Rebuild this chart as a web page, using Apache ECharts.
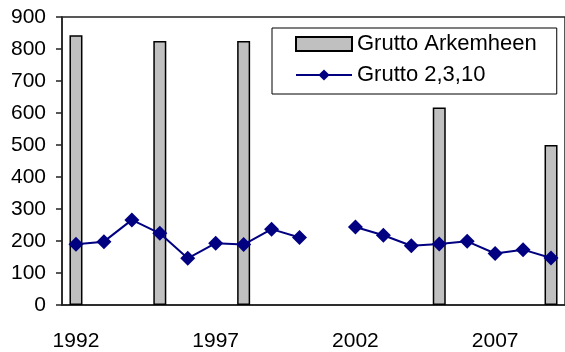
<!DOCTYPE html>
<html>
<head>
<meta charset="utf-8">
<script src="https://cdn.jsdelivr.net/npm/echarts@6/dist/echarts.min.js"></script>
<style>
  html, body { margin: 0; padding: 0; background: #fff; }
  #chart { width: 565px; height: 352px; }
</style>
</head>
<body>
<div id="chart"></div>
<script>
// years on the x axis
var years = ['1992', '1993', '1994', '1995', '1996', '1997', '1998', '1999', '2000',
  '2001', '2002', '2003', '2004', '2005', '2006', '2007', '2008', '2009']
// Grutto Arkemheen (bars, only some years counted)
var arkemheen = [843, null, null, 825, null, null, 825, null, null,
  null, null, null, null, 617, null, null, null, 500]
// Grutto 2,3,10 (line, 2001 missing)
var grutto2310 = [190, 198, 266, 224, 146, 193, 189, 237, 211,
  null, 244, 218, 185, 191, 199, 161, 173, 147]
var yTicks = { min: 0, max: 900, interval: 100 }

var chart = echarts.init(document.getElementById('chart'))
var font = 'Liberation Sans, Arial, sans-serif'

chart.setOption({
  animation: false,
  textStyle: { fontFamily: font },
  grid: {
    left: 62,
    right: 0,
    top: 17,
    bottom: 46,
    show: true,
    borderColor: '#222',
    borderWidth: 1.5
  },
  legend: {
    orient: 'vertical',
    left: 272,
    top: 28,
    padding: [5, 20, 8, 23],
    itemGap: 9,
    itemWidth: 56,
    itemHeight: 14,
    borderColor: '#000',
    borderWidth: 1,
    backgroundColor: '#fff',
    textStyle: { fontSize: 22, color: '#000', lineHeight: 22, fontFamily: font },
    data: [{ name: 'Grutto Arkemheen', icon: 'rect' }, { name: 'Grutto 2,3,10' }]
  },
  xAxis: {
    type: 'category',
    data: years,
    boundaryGap: true,
    axisLine: { lineStyle: { color: '#222', width: 1.5 } },
    axisTick: { interval: 0, length: 6, lineStyle: { color: '#222', width: 1.5 } },
    axisLabel: { interval: 4, fontSize: 21, color: '#000', margin: 26 }
  },
  yAxis: {
    type: 'value',
    min: yTicks.min,
    max: yTicks.max,
    interval: yTicks.interval,
    splitLine: { show: false },
    axisLine: { show: true, lineStyle: { color: '#222', width: 1.5 } },
    axisTick: { show: true, length: 6, lineStyle: { color: '#222', width: 1.5 } },
    axisLabel: { fontSize: 21, color: '#000', margin: 16 }
  },
  series: [
    {
      name: 'Grutto Arkemheen',
      type: 'bar',
      barWidth: 13,
      data: arkemheen,
      itemStyle: { color: '#c0c0c0', borderColor: '#000', borderWidth: 1.5 }
    },
    {
      name: 'Grutto 2,3,10',
      type: 'line',
      data: grutto2310,
      connectNulls: false,
      symbol: 'diamond',
      symbolSize: 15,
      lineStyle: { color: '#000080', width: 2 },
      itemStyle: { color: '#000080' }
    }
  ]
})
</script>
</body>
</html>
